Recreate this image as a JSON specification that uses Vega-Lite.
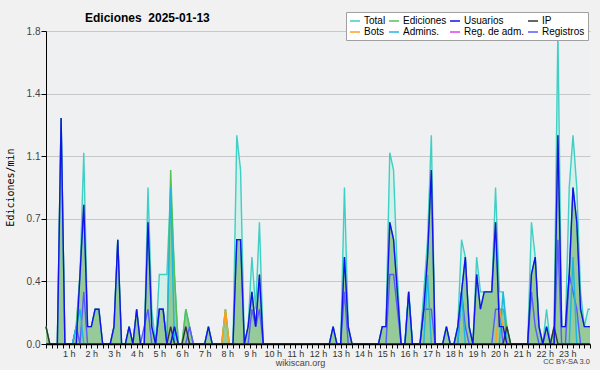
{
  "$schema": "https://vega.github.io/schema/vega-lite/v6.json",
  "width": 544,
  "height": 313,
  "autosize": {"type": "none"},
  "padding": {"left": 46, "top": 31, "right": 10, "bottom": 26},
  "background": "#f1f1f1",
  "config": {"view": {"fill": "#eef0f2", "stroke": null}, "font": "Liberation Sans"},
  "title": {"text": "Ediciones\u00a0 2025-01-13", "anchor": "start", "frame": "group", "dx": 39, "offset": -22, "baseline": "alphabetic", "font": "Liberation Sans", "fontSize": 12, "fontWeight": "bold", "color": "#000000"},
  "data": {"values": [
    {"m":0,"tot":0.1,"ed":0.1,"us":0,"reg":0,"ip":0.1,"bot":0,"adm":0},
    {"m":10,"tot":0,"ed":0,"us":0,"reg":0,"ip":0,"bot":0,"adm":0},
    {"m":30,"tot":0,"ed":0,"us":0,"reg":0,"ip":0,"bot":0,"adm":0},
    {"m":40,"tot":1.3,"ed":1.3,"us":1.3,"reg":0,"ip":0,"bot":0,"adm":0},
    {"m":50,"tot":0,"ed":0,"us":0,"reg":0,"ip":0,"bot":0,"adm":0},
    {"m":70,"tot":0,"ed":0,"us":0,"reg":0,"ip":0,"bot":0,"adm":0},
    {"m":80,"tot":0.1,"ed":0.1,"us":0,"reg":0.1,"ip":0,"bot":0,"adm":0.1},
    {"m":90,"tot":0.4,"ed":0.4,"us":0.4,"reg":0,"ip":0,"bot":0,"adm":0.2},
    {"m":100,"tot":1.1,"ed":0.8,"us":0.8,"reg":0.3,"ip":0,"bot":0,"adm":0},
    {"m":110,"tot":0.1,"ed":0.1,"us":0.1,"reg":0,"ip":0,"bot":0,"adm":0},
    {"m":120,"tot":0.1,"ed":0.1,"us":0.1,"reg":0,"ip":0,"bot":0,"adm":0},
    {"m":130,"tot":0.2,"ed":0.2,"us":0.2,"reg":0,"ip":0,"bot":0,"adm":0},
    {"m":140,"tot":0.2,"ed":0.2,"us":0.2,"reg":0,"ip":0,"bot":0,"adm":0},
    {"m":150,"tot":0,"ed":0,"us":0,"reg":0,"ip":0,"bot":0,"adm":0},
    {"m":170,"tot":0,"ed":0,"us":0,"reg":0,"ip":0,"bot":0,"adm":0},
    {"m":180,"tot":0.1,"ed":0.1,"us":0.1,"reg":0,"ip":0,"bot":0,"adm":0},
    {"m":190,"tot":0.6,"ed":0.6,"us":0.6,"reg":0,"ip":0,"bot":0,"adm":0},
    {"m":200,"tot":0,"ed":0,"us":0,"reg":0,"ip":0,"bot":0,"adm":0},
    {"m":210,"tot":0,"ed":0,"us":0,"reg":0,"ip":0,"bot":0,"adm":0},
    {"m":220,"tot":0.1,"ed":0.1,"us":0.1,"reg":0,"ip":0,"bot":0,"adm":0},
    {"m":230,"tot":0,"ed":0,"us":0,"reg":0,"ip":0,"bot":0,"adm":0},
    {"m":240,"tot":0.2,"ed":0.2,"us":0.2,"reg":0,"ip":0,"bot":0,"adm":0},
    {"m":250,"tot":0,"ed":0,"us":0,"reg":0,"ip":0,"bot":0,"adm":0},
    {"m":260,"tot":0,"ed":0,"us":0,"reg":0.1,"ip":0,"bot":0,"adm":0},
    {"m":270,"tot":0.9,"ed":0.7,"us":0.7,"reg":0.2,"ip":0,"bot":0,"adm":0},
    {"m":280,"tot":0.2,"ed":0.1,"us":0.1,"reg":0,"ip":0,"bot":0,"adm":0},
    {"m":290,"tot":0,"ed":0,"us":0,"reg":0,"ip":0,"bot":0,"adm":0},
    {"m":300,"tot":0.4,"ed":0.2,"us":0.2,"reg":0.2,"ip":0,"bot":0,"adm":0},
    {"m":310,"tot":0.4,"ed":0.2,"us":0.2,"reg":0.2,"ip":0,"bot":0,"adm":0},
    {"m":320,"tot":0.4,"ed":0,"us":0,"reg":0,"ip":0,"bot":0,"adm":0},
    {"m":330,"tot":0.9,"ed":1.0,"us":0,"reg":0,"ip":0.1,"bot":0,"adm":0.9},
    {"m":340,"tot":0.4,"ed":0.4,"us":0.1,"reg":0.1,"ip":0,"bot":0,"adm":0},
    {"m":350,"tot":0,"ed":0,"us":0,"reg":0,"ip":0,"bot":0,"adm":0},
    {"m":360,"tot":0,"ed":0,"us":0,"reg":0,"ip":0,"bot":0,"adm":0},
    {"m":370,"tot":0.2,"ed":0.2,"us":0,"reg":0,"ip":0.1,"bot":0,"adm":0},
    {"m":380,"tot":0.1,"ed":0.1,"us":0,"reg":0.1,"ip":0,"bot":0,"adm":0},
    {"m":390,"tot":0,"ed":0,"us":0,"reg":0,"ip":0,"bot":0,"adm":0},
    {"m":420,"tot":0,"ed":0,"us":0,"reg":0,"ip":0,"bot":0,"adm":0},
    {"m":430,"tot":0.1,"ed":0.1,"us":0.1,"reg":0,"ip":0,"bot":0,"adm":0},
    {"m":440,"tot":0,"ed":0,"us":0,"reg":0,"ip":0,"bot":0,"adm":0},
    {"m":465,"tot":0,"ed":0,"us":0,"reg":0,"ip":0,"bot":0,"adm":0},
    {"m":475,"tot":0.2,"ed":0.2,"us":0,"reg":0,"ip":0,"bot":0.2,"adm":0},
    {"m":485,"tot":0,"ed":0,"us":0,"reg":0,"ip":0,"bot":0,"adm":0},
    {"m":495,"tot":0,"ed":0,"us":0,"reg":0,"ip":0,"bot":0,"adm":0},
    {"m":505,"tot":1.2,"ed":0.6,"us":0.6,"reg":0,"ip":0,"bot":0,"adm":0},
    {"m":515,"tot":1.0,"ed":0.6,"us":0.6,"reg":0,"ip":0,"bot":0,"adm":0},
    {"m":525,"tot":0,"ed":0,"us":0,"reg":0,"ip":0,"bot":0,"adm":0},
    {"m":535,"tot":0.1,"ed":0.1,"us":0.1,"reg":0,"ip":0,"bot":0,"adm":0},
    {"m":545,"tot":0.5,"ed":0.3,"us":0.3,"reg":0.2,"ip":0,"bot":0,"adm":0},
    {"m":555,"tot":0.2,"ed":0.1,"us":0.1,"reg":0.1,"ip":0,"bot":0,"adm":0},
    {"m":565,"tot":0.7,"ed":0.4,"us":0.4,"reg":0.2,"ip":0,"bot":0,"adm":0},
    {"m":575,"tot":0,"ed":0,"us":0,"reg":0,"ip":0,"bot":0,"adm":0},
    {"m":750,"tot":0,"ed":0,"us":0,"reg":0,"ip":0,"bot":0,"adm":0},
    {"m":760,"tot":0.1,"ed":0.1,"us":0.1,"reg":0,"ip":0,"bot":0,"adm":0},
    {"m":770,"tot":0,"ed":0,"us":0,"reg":0,"ip":0,"bot":0,"adm":0},
    {"m":780,"tot":0,"ed":0,"us":0,"reg":0,"ip":0,"bot":0,"adm":0},
    {"m":790,"tot":0.9,"ed":0.5,"us":0.5,"reg":0.3,"ip":0,"bot":0,"adm":0},
    {"m":800,"tot":0.1,"ed":0.1,"us":0.1,"reg":0,"ip":0,"bot":0,"adm":0},
    {"m":810,"tot":0,"ed":0,"us":0,"reg":0,"ip":0,"bot":0,"adm":0},
    {"m":880,"tot":0,"ed":0,"us":0,"reg":0,"ip":0,"bot":0,"adm":0},
    {"m":890,"tot":0.1,"ed":0.1,"us":0.1,"reg":0,"ip":0,"bot":0,"adm":0},
    {"m":900,"tot":0.1,"ed":0.1,"us":0.1,"reg":0,"ip":0,"bot":0,"adm":0},
    {"m":910,"tot":1.1,"ed":0.7,"us":0.7,"reg":0.4,"ip":0,"bot":0,"adm":0},
    {"m":920,"tot":1.0,"ed":0.6,"us":0.6,"reg":0.4,"ip":0,"bot":0,"adm":0},
    {"m":930,"tot":0.4,"ed":0.3,"us":0.3,"reg":0.2,"ip":0,"bot":0,"adm":0},
    {"m":940,"tot":0,"ed":0,"us":0,"reg":0,"ip":0,"bot":0,"adm":0},
    {"m":950,"tot":0,"ed":0,"us":0,"reg":0,"ip":0,"bot":0,"adm":0},
    {"m":960,"tot":0.3,"ed":0.3,"us":0.3,"reg":0,"ip":0,"bot":0,"adm":0.3},
    {"m":970,"tot":0,"ed":0,"us":0,"reg":0,"ip":0,"bot":0,"adm":0},
    {"m":990,"tot":0,"ed":0,"us":0,"reg":0,"ip":0,"bot":0,"adm":0},
    {"m":1000,"tot":0.3,"ed":0.2,"us":0.2,"reg":0.2,"ip":0,"bot":0,"adm":0},
    {"m":1010,"tot":0.6,"ed":0.5,"us":0.5,"reg":0.2,"ip":0,"bot":0,"adm":0.4},
    {"m":1020,"tot":1.2,"ed":1.0,"us":1.0,"reg":0.2,"ip":0,"bot":0,"adm":0},
    {"m":1030,"tot":0,"ed":0,"us":0,"reg":0,"ip":0,"bot":0,"adm":0},
    {"m":1050,"tot":0,"ed":0,"us":0,"reg":0,"ip":0,"bot":0,"adm":0},
    {"m":1060,"tot":0.1,"ed":0.1,"us":0.1,"reg":0,"ip":0,"bot":0,"adm":0},
    {"m":1070,"tot":0,"ed":0,"us":0,"reg":0,"ip":0,"bot":0,"adm":0},
    {"m":1080,"tot":0,"ed":0,"us":0,"reg":0,"ip":0,"bot":0,"adm":0},
    {"m":1090,"tot":0.1,"ed":0.1,"us":0.1,"reg":0,"ip":0,"bot":0,"adm":0},
    {"m":1100,"tot":0.6,"ed":0.3,"us":0.3,"reg":0.3,"ip":0,"bot":0,"adm":0.3},
    {"m":1110,"tot":0.5,"ed":0.5,"us":0.5,"reg":0.1,"ip":0,"bot":0,"adm":0},
    {"m":1120,"tot":0.1,"ed":0.1,"us":0.1,"reg":0,"ip":0,"bot":0,"adm":0},
    {"m":1130,"tot":0,"ed":0,"us":0,"reg":0,"ip":0,"bot":0,"adm":0},
    {"m":1140,"tot":0.5,"ed":0.4,"us":0.4,"reg":0,"ip":0,"bot":0,"adm":0},
    {"m":1150,"tot":0.3,"ed":0.2,"us":0.2,"reg":0,"ip":0,"bot":0,"adm":0},
    {"m":1160,"tot":0.3,"ed":0.3,"us":0.3,"reg":0,"ip":0,"bot":0,"adm":0},
    {"m":1170,"tot":0.3,"ed":0.3,"us":0.3,"reg":0,"ip":0,"bot":0,"adm":0},
    {"m":1180,"tot":0.3,"ed":0.3,"us":0.3,"reg":0,"ip":0,"bot":0,"adm":0},
    {"m":1190,"tot":0.9,"ed":0.7,"us":0.7,"reg":0.2,"ip":0,"bot":0,"adm":0},
    {"m":1200,"tot":0.3,"ed":0.2,"us":0.1,"reg":0.2,"ip":0,"bot":0.2,"adm":0},
    {"m":1210,"tot":0.3,"ed":0.2,"us":0.1,"reg":0,"ip":0,"bot":0.1,"adm":0.3},
    {"m":1220,"tot":0.1,"ed":0.1,"us":0,"reg":0,"ip":0.1,"bot":0,"adm":0},
    {"m":1230,"tot":0,"ed":0,"us":0,"reg":0,"ip":0,"bot":0,"adm":0},
    {"m":1275,"tot":0,"ed":0,"us":0,"reg":0,"ip":0,"bot":0,"adm":0},
    {"m":1285,"tot":0.7,"ed":0.4,"us":0.4,"reg":0.3,"ip":0,"bot":0,"adm":0},
    {"m":1295,"tot":0.5,"ed":0.5,"us":0.5,"reg":0.1,"ip":0,"bot":0,"adm":0},
    {"m":1305,"tot":0.1,"ed":0.1,"us":0.1,"reg":0,"ip":0,"bot":0,"adm":0},
    {"m":1315,"tot":0,"ed":0,"us":0,"reg":0,"ip":0,"bot":0,"adm":0},
    {"m":1325,"tot":0.2,"ed":0.1,"us":0.1,"reg":0,"ip":0,"bot":0,"adm":0},
    {"m":1335,"tot":0,"ed":0,"us":0,"reg":0,"ip":0,"bot":0,"adm":0},
    {"m":1345,"tot":0.1,"ed":0.1,"us":0,"reg":0,"ip":0.1,"bot":0,"adm":0},
    {"m":1355,"tot":1.8,"ed":1.2,"us":1.2,"reg":0.6,"ip":0,"bot":0,"adm":0},
    {"m":1365,"tot":0.1,"ed":0.1,"us":0.1,"reg":0,"ip":0,"bot":0,"adm":0},
    {"m":1375,"tot":0.1,"ed":0.1,"us":0.1,"reg":0,"ip":0,"bot":0,"adm":0},
    {"m":1385,"tot":0.9,"ed":0.4,"us":0.4,"reg":0.4,"ip":0,"bot":0,"adm":0},
    {"m":1395,"tot":1.2,"ed":0.9,"us":0.9,"reg":0.3,"ip":0,"bot":0,"adm":0.5},
    {"m":1405,"tot":0.9,"ed":0.7,"us":0.7,"reg":0.2,"ip":0,"bot":0,"adm":0},
    {"m":1415,"tot":0.3,"ed":0.2,"us":0.2,"reg":0,"ip":0,"bot":0,"adm":0},
    {"m":1425,"tot":0.1,"ed":0.1,"us":0.1,"reg":0,"ip":0,"bot":0,"adm":0},
    {"m":1435,"tot":0.2,"ed":0.1,"us":0.1,"reg":0,"ip":0,"bot":0,"adm":0},
    {"m":1440,"tot":0.2,"ed":0.1,"us":0.1,"reg":0,"ip":0,"bot":0,"adm":0}
  ]},
  "encoding": {
    "x": {"field": "m", "type": "quantitative", "scale": {"domain": [0, 1440], "nice": false, "zero": false},
      "axis": {"values": [0,15,30,45,60,75,90,105,120,135,150,165,180,195,210,225,240,255,270,285,300,315,330,345,360,375,390,405,420,435,450,465,480,495,510,525,540,555,570,585,600,615,630,645,660,675,690,705,720,735,750,765,780,795,810,825,840,855,870,885,900,915,930,945,960,975,990,1005,1020,1035,1050,1065,1080,1095,1110,1125,1140,1155,1170,1185,1200,1215,1230,1245,1260,1275,1290,1305,1320,1335,1350,1365,1380,1395,1410,1425,1440],
        "labelExpr": "(datum.value % 60 == 0 && datum.value > 0 && datum.value < 1440) ? (datum.value / 60) + ' h' : ''",
        "grid": false, "zindex": 1, "domainColor": "#000000", "domainWidth": 1.5, "tickColor": "#000000", "tickSize": 4, "labelFont": "Liberation Sans", "labelFontSize": 9, "labelColor": "#333333", "labelPadding": 1, "labelOverlap": false, "labelFlush": false,
        "title": "wikiscan.org", "titleFont": "Liberation Sans", "titleFontSize": 9, "titleFontWeight": "normal", "titleColor": "#444444", "titleX": 254, "titleY": 14, "titleBaseline": "top", "titleAlign": "center"}}
  },
  "layer": [
    {"mark": {"type": "area", "color": "#d4f0ea", "opacity": 1},
     "encoding": {"y": {"field": "tot", "type": "quantitative", "scale": {"domain": [0, 1.8], "nice": false},
       "axis": {"values": [0,0.09,0.18,0.27,0.36,0.45,0.54,0.63,0.72,0.81,0.9,0.99,1.08,1.17,1.26,1.35,1.44,1.53,1.62,1.71,1.8],
         "labelExpr": "round(datum.value*100) % 36 == 0 ? format(datum.value, '.1f') : ''",
         "gridOpacity": {"condition": {"test": "round(datum.value*100) % 36 == 0 && datum.value > 0", "value": 1}, "value": 0},
         "tickSize": {"condition": {"test": "round(datum.value*100) % 36 == 0", "value": 5}, "value": 3},
         "gridColor": "#c8c8c8", "domainColor": "#000000", "tickColor": "#000000", "labelFont": "Liberation Sans", "labelFontSize": 10, "labelColor": "#444444", "labelPadding": 1, "labelOverlap": false,
         "title": "Ediciones/min", "titleFont": "DejaVu Sans Mono", "titleFontSize": 10, "titleFontWeight": "normal", "titleColor": "#000000", "titleX": -36, "titleY": 156, "titleAngle": -90, "titleAlign": "center", "titleBaseline": "middle"}}}},
    {"mark": {"type": "area", "color": "#96ca98", "opacity": 1},
     "encoding": {"y": {"field": "ed", "type": "quantitative"}}},
    {"transform": [{"fold": ["tot", "ed", "reg", "adm", "bot", "ip", "us"], "as": ["k", "v"]}],
     "mark": {"type": "line", "strokeWidth": 1.4},
     "encoding": {
       "y": {"field": "v", "type": "quantitative"},
       "color": {"field": "k", "type": "nominal",
         "scale": {"domain": ["tot", "ed", "us", "ip", "bot", "adm", "rega", "reg"], "range": ["#3ecfc5", "#55c055", "#1212f0", "#333333", "#ffa020", "#1cb8e0", "#e040f0", "#5a5aff"]},
         "legend": {"orient": "none", "legendX": 300, "legendY": -19, "columns": 4, "direction": "horizontal", "gridAlign": "each", "title": null,
           "symbolType": "stroke", "symbolSize": 100, "symbolStrokeWidth": 1.5, "labelFont": "Liberation Sans", "labelFontSize": 10, "labelColor": "#000000", "labelOffset": 3, "columnPadding": 0, "rowPadding": 0, "padding": 3, "fillColor": "#ffffff", "strokeColor": "#a0a0a0", "labelLimit": 120,
           "labelExpr": "datum.value == 'tot' ? 'Total' : datum.value == 'ed' ? 'Ediciones' : datum.value == 'us' ? 'Usuarios' : datum.value == 'ip' ? 'IP' : datum.value == 'bot' ? 'Bots' : datum.value == 'adm' ? 'Admins.' : datum.value == 'rega' ? 'Reg. de adm.' : 'Registros'"}}
     }},
    {"data": {"values": [{"m": 1440, "label": "CC BY-SA 3.0"}]},
     "mark": {"type": "text", "align": "right", "baseline": "top", "dy": 14, "fontSize": 7.5, "font": "Liberation Sans", "color": "#444444"},
     "encoding": {"y": {"datum": 0}, "text": {"field": "label"}}}
  ]
}
